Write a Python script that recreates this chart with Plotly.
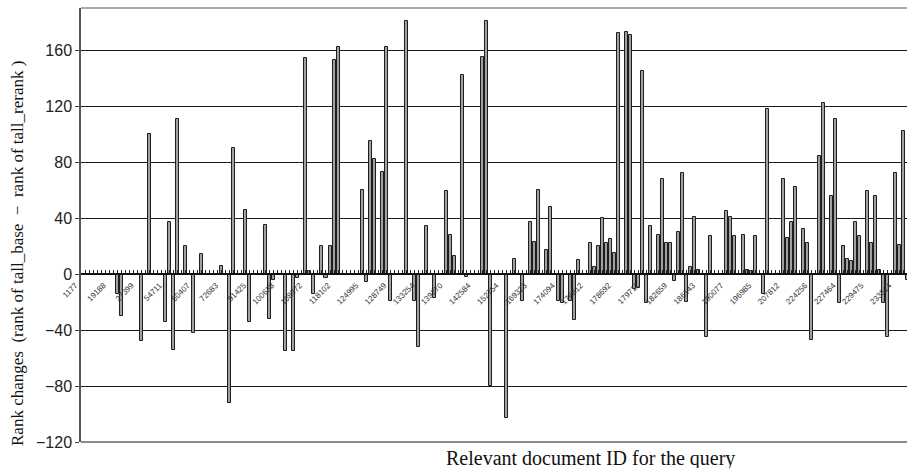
import plotly.graph_objects as go

# category positions (index of each relevant document along the x axis) and rank changes
bar_index = [9, 10, 15, 17, 21, 22, 23, 24, 26, 28, 30, 35, 37, 38, 41, 42, 46, 47, 48, 51,
             53, 54, 56, 57, 58, 60, 61, 62, 63, 64, 70, 71, 72, 73, 75, 76, 77, 81, 83, 84,
             86, 88, 91, 92, 93, 95, 96, 100, 101, 102, 106, 108, 110, 112, 113, 114, 116, 117, 119, 120,
             122, 123, 124, 127, 128, 129, 130, 131, 132, 133, 134, 136, 137, 138, 139, 140, 141, 142, 144, 145,
             146, 147, 148, 149, 150, 151, 152, 153, 154, 156, 157, 161, 162, 163, 165, 166, 167, 168, 170, 171,
             175, 176, 177, 178, 180, 181, 182, 184, 185, 187, 188, 189, 190, 191, 192, 193, 194, 196, 197, 198,
             199, 200, 201, 203, 204, 205, 206]
rank_change = [-14, -30, -48, 100, -34, 37, -54, 111, 20, -42, 14, 6, -92, 90, 46, -34, 35, -32, -4, -55,
               -55, -3, 154, 2, -14, 20, -3, 20, 153, 162, 60, -6, 95, 82, 73, 162, -19, 181, -19, -52,
               34, -17, 59, 28, 13, 142, -2, 155, 181, -80, -103, 11, -19, 37, 23, 60, 17, 48, -19, -21,
               -19, -33, 10, 22, 5, 20, 40, 22, 25, 15, 172, 173, 171, -11, -10, 145, -21, 34, 28, 68,
               22, 22, -5, 30, 72, -20, 5, 41, 3, -45, 27, 45, 41, 27, 28, 3, 2, 27, -14, 118,
               68, 26, 37, 62, 32, 22, -47, 84, 122, 56, 111, -21, 20, 11, 9, 37, 27, 59, 22, 56,
               3, -21, -45, 72, 21, 102, -4]

# labelled categories (every 7th document) and their IDs
label_index = list(range(0, 204, 7))
label_ids = ["1177", "19188", "27399", "54711", "60407", "72683", "91425", "100638", "108972", "118102",
             "124995", "128749", "133254", "139270", "142584", "152754", "169323", "174094", "176812", "178692",
             "179711", "182659", "186143", "190077", "196985", "207812", "224256", "227464", "229475", "233514"]

y_ticks = [-120, -80, -40, 0, 40, 80, 120, 160]

fig = go.Figure()
fig.add_trace(go.Bar(
    x=bar_index, y=rank_change, width=0.75,
    marker=dict(color="#a0a0a0", line=dict(color="#1e1e1e", width=1)),
))

fig.update_layout(
    width=907, height=468,
    margin=dict(l=81, r=0, t=8, b=26),
    paper_bgcolor="white", plot_bgcolor="white",
    showlegend=False,
    bargap=0,
    xaxis=dict(
        range=[-0.1, 205.9],
        anchor="free", position=120 / 310,
        showline=True, linecolor="#111", linewidth=1.5,
        showgrid=False, zeroline=False,
        tickmode="array", tickvals=label_index, ticktext=label_ids,
        ticks="inside", ticklen=3, tickcolor="#222", tickwidth=1,
        tickangle=-45,
        tickfont=dict(family="Liberation Sans", size=8, color="#333"),
        ticklabelshift=-6,
        ticklabelstandoff=3,
        minor=dict(tick0=0, dtick=1, ticks="inside", ticklen=3, tickcolor="#222", tickwidth=1, showgrid=False),
    ),
    yaxis=dict(
        range=[-120, 190],
        tickmode="array", tickvals=y_ticks,
        showgrid=True, gridcolor="#1a1a1a", gridwidth=1,
        zeroline=False,
        showline=True, linecolor="#555", linewidth=1.5,
        ticks="outside", ticklen=4, tickcolor="#444",
        tickfont=dict(family="Liberation Sans", size=16, color="#222"),
    ),
)

# frame lines: top border and bottom axis line
fig.add_shape(type="line", xref="paper", yref="paper", x0=0, x1=1, y0=1, y1=1,
              line=dict(color="#aaaaaa", width=2))
fig.add_shape(type="line", xref="paper", yref="paper", x0=0, x1=1, y0=0, y1=0,
              line=dict(color="#8a8a8a", width=2))

fig.add_annotation(text="Rank changes  (rank of tall_base  \u2212  rank of tall_rerank )",
                   xref="paper", yref="paper", x=-0.0763, y=0.4355, textangle=-90,
                   showarrow=False, xanchor="center", yanchor="middle",
                   font=dict(family="Liberation Serif", size=17, color="#111"))
fig.add_annotation(text="Relevant document ID for the query",
                   xref="paper", yref="paper", x=0.6174, y=-0.0369,
                   showarrow=False, xanchor="center", yanchor="middle",
                   font=dict(family="Liberation Serif", size=20, color="#111"))

fig.write_html("out.html")
